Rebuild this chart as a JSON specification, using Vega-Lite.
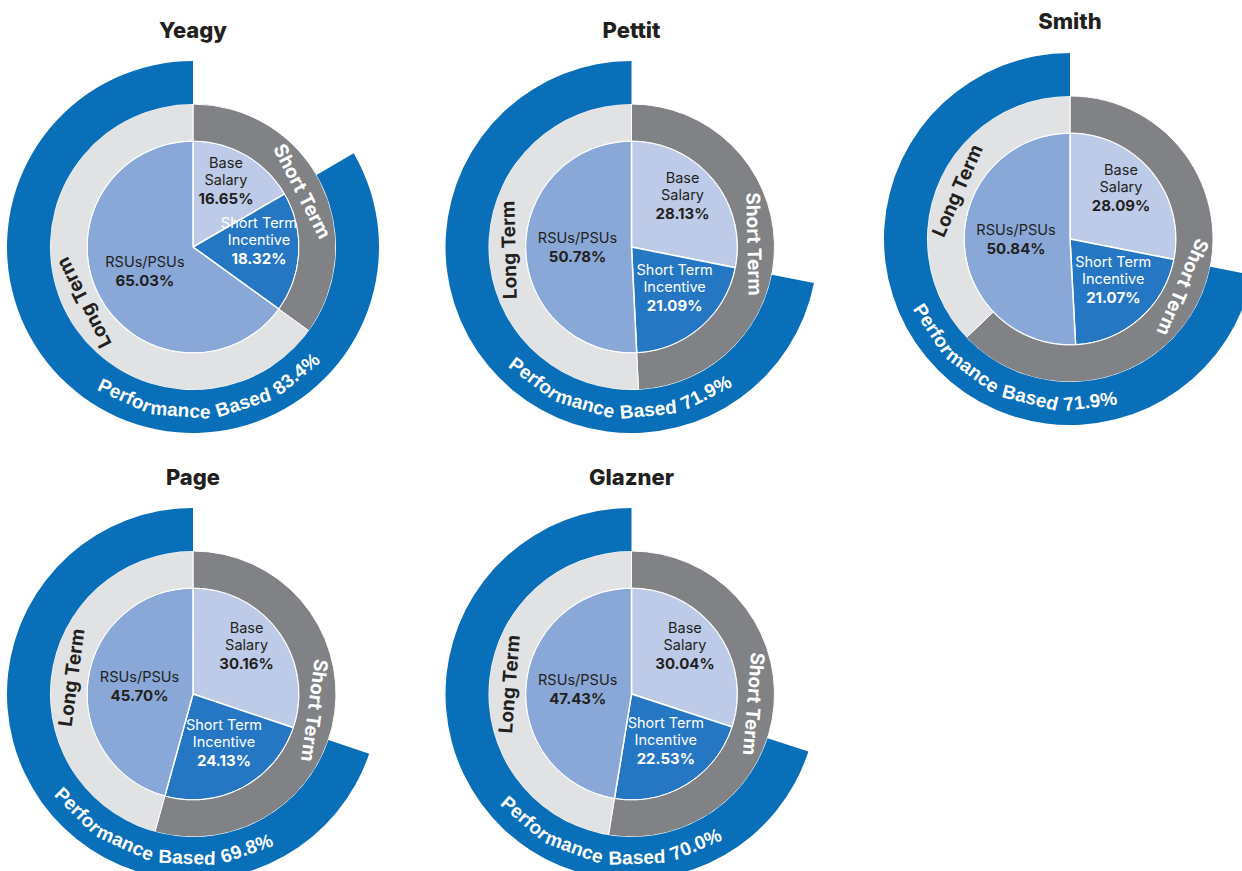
{
"$schema": "https://vega.github.io/schema/vega-lite/v6.json",
"background": "#ffffff",
"padding": {"left": 0, "top": 11, "right": 0, "bottom": 0},
"config": {"view": {"stroke": null}, "font": "Inter"},
"datasets": {"comp": [
{"p":"Yeagy","ring":"pie","seg":"Base Salary","label":"Base\nSalary","v":0.1665,"k":1},
{"p":"Yeagy","ring":"pie","seg":"Short Term Incentive","label":"Short Term\nIncentive","v":0.1832,"k":2},
{"p":"Yeagy","ring":"pie","seg":"RSUs/PSUs","label":"RSUs/PSUs","v":0.6503,"k":3},
{"p":"Yeagy","ring":"mid","seg":"Short Term","label":"Short Term","v":0.3497,"k":1},
{"p":"Yeagy","ring":"mid","seg":"Long Term","label":"Long Term","v":0.6503,"k":2},
{"p":"Yeagy","ring":"outer","seg":"Not Performance Based","label":"","v":0.166,"k":1},
{"p":"Yeagy","ring":"outer","seg":"Performance Based","label":"Performance Based","v":0.834,"k":2},
{"p":"Pettit","ring":"pie","seg":"Base Salary","label":"Base\nSalary","v":0.2813,"k":1},
{"p":"Pettit","ring":"pie","seg":"Short Term Incentive","label":"Short Term\nIncentive","v":0.2109,"k":2},
{"p":"Pettit","ring":"pie","seg":"RSUs/PSUs","label":"RSUs/PSUs","v":0.5078,"k":3},
{"p":"Pettit","ring":"mid","seg":"Short Term","label":"Short Term","v":0.4922,"k":1},
{"p":"Pettit","ring":"mid","seg":"Long Term","label":"Long Term","v":0.5078,"k":2},
{"p":"Pettit","ring":"outer","seg":"Not Performance Based","label":"","v":0.281,"k":1},
{"p":"Pettit","ring":"outer","seg":"Performance Based","label":"Performance Based","v":0.719,"k":2},
{"p":"Smith","ring":"pie","seg":"Base Salary","label":"Base\nSalary","v":0.2809,"k":1},
{"p":"Smith","ring":"pie","seg":"Short Term Incentive","label":"Short Term\nIncentive","v":0.2107,"k":2},
{"p":"Smith","ring":"pie","seg":"RSUs/PSUs","label":"RSUs/PSUs","v":0.5084,"k":3},
{"p":"Smith","ring":"mid","seg":"Short Term","label":"Short Term","v":0.629,"k":1},
{"p":"Smith","ring":"mid","seg":"Long Term","label":"Long Term","v":0.371,"k":2},
{"p":"Smith","ring":"outer","seg":"Not Performance Based","label":"","v":0.281,"k":1},
{"p":"Smith","ring":"outer","seg":"Performance Based","label":"Performance Based","v":0.719,"k":2},
{"p":"Page","ring":"pie","seg":"Base Salary","label":"Base\nSalary","v":0.3016,"k":1},
{"p":"Page","ring":"pie","seg":"Short Term Incentive","label":"Short Term\nIncentive","v":0.2413,"k":2},
{"p":"Page","ring":"pie","seg":"RSUs/PSUs","label":"RSUs/PSUs","v":0.4570,"k":3},
{"p":"Page","ring":"mid","seg":"Short Term","label":"Short Term","v":0.5429,"k":1},
{"p":"Page","ring":"mid","seg":"Long Term","label":"Long Term","v":0.4571,"k":2},
{"p":"Page","ring":"outer","seg":"Not Performance Based","label":"","v":0.302,"k":1},
{"p":"Page","ring":"outer","seg":"Performance Based","label":"Performance Based","v":0.698,"k":2},
{"p":"Glazner","ring":"pie","seg":"Base Salary","label":"Base\nSalary","v":0.3004,"k":1},
{"p":"Glazner","ring":"pie","seg":"Short Term Incentive","label":"Short Term\nIncentive","v":0.2253,"k":2},
{"p":"Glazner","ring":"pie","seg":"RSUs/PSUs","label":"RSUs/PSUs","v":0.4743,"k":3},
{"p":"Glazner","ring":"mid","seg":"Short Term","label":"Short Term","v":0.5257,"k":1},
{"p":"Glazner","ring":"mid","seg":"Long Term","label":"Long Term","v":0.4743,"k":2},
{"p":"Glazner","ring":"outer","seg":"Not Performance Based","label":"","v":0.300,"k":1},
{"p":"Glazner","ring":"outer","seg":"Performance Based","label":"Performance Based","v":0.700,"k":2}
]},
"columns": 3,
"spacing": {"row": 34, "column": 52.5},
"concat": [
{
"title": {"text": "Yeagy", "fontSize": 22, "fontWeight": 800, "font": "Inter", "color": "#231f20", "offset": 18},
"width": 386, "height": 372,
"data": {"name": "comp"},
"transform": [{"filter": "datum.p === 'Yeagy'"}],
"layer": [
{"transform": [{"filter": "datum.ring === 'pie'"}],
 "mark": {"type": "arc", "radius": 106, "stroke": "#ffffff", "strokeWidth": 1.5},
 "encoding": {"theta": {"field": "v", "type": "quantitative", "stack": true, "scale": {"domain": [0, 1]}},
  "order": {"field": "k", "type": "quantitative"},
  "color": {"field": "seg", "type": "nominal", "legend": null, "scale": {"domain": ["Base Salary","Short Term Incentive","RSUs/PSUs","Short Term","Long Term","Not Performance Based","Performance Based"], "range": ["#bdcbe8","#2677c3","#89a8d8","#808285","#e1e2e4","#ffffff","#0a6fb9"]}}}},
{"transform": [{"filter": "datum.ring === 'mid'"}],
 "mark": {"type": "arc", "radius": 143, "radius2": 106, "stroke": "#ffffff", "strokeWidth": 1},
 "encoding": {"theta": {"field": "v", "type": "quantitative", "stack": true, "scale": {"domain": [0, 1]}},
  "order": {"field": "k", "type": "quantitative"},
  "color": {"field": "seg", "type": "nominal", "legend": null}}},
{"transform": [{"filter": "datum.ring === 'outer'"}],
 "mark": {"type": "arc", "radius": 186, "radius2": 143},
 "encoding": {"theta": {"field": "v", "type": "quantitative", "stack": true, "scale": {"domain": [0, 1]}},
  "order": {"field": "k", "type": "quantitative"},
  "color": {"field": "seg", "type": "nominal", "legend": null},
  "opacity": {"condition": {"test": "datum.seg === 'Performance Based'", "value": 1}, "value": 0}}},
{"transform": [{"filter": "datum.ring === 'pie'"}],
 "mark": {"type": "text", "radius": 66, "baseline": "bottom", "lineBreak": "\n", "fontSize": 14.5, "lineHeight": 17, "font": "Inter", "dy": -19},
 "encoding": {"theta": {"field": "v", "type": "quantitative", "stack": true, "scale": {"domain": [0, 1]}},
  "order": {"field": "k", "type": "quantitative"}, "detail": {"field": "seg"},
  "text": {"field": "label"},
  "opacity": {"condition": {"test": "datum.k === 3", "value": 0}, "value": 1},
  "color": {"condition": {"test": "datum.seg === 'Short Term Incentive'", "value": "#ffffff"}, "value": "#231f20"}}},
{"transform": [{"filter": "datum.ring === 'pie'"}],
 "mark": {"type": "text", "radius": 66, "baseline": "top", "fontSize": 15, "fontWeight": "bold", "font": "Inter", "dy": 2},
 "encoding": {"theta": {"field": "v", "type": "quantitative", "stack": true, "scale": {"domain": [0, 1]}},
  "order": {"field": "k", "type": "quantitative"}, "detail": {"field": "seg"},
  "text": {"field": "v", "type": "quantitative", "format": ".2%"},
  "opacity": {"condition": {"test": "datum.k === 3", "value": 0}, "value": 1},
  "color": {"condition": {"test": "datum.seg === 'Short Term Incentive'", "value": "#ffffff"}, "value": "#231f20"}}},
{"transform": [{"filter": "datum.ring === 'pie'"}],
 "mark": {"type": "text", "radius": 54, "baseline": "bottom", "fontSize": 14.5, "font": "Inter", "dy": -2},
 "encoding": {"theta": {"field": "v", "type": "quantitative", "stack": true, "scale": {"domain": [0, 1]}},
  "order": {"field": "k", "type": "quantitative"}, "detail": {"field": "seg"},
  "text": {"field": "label"},
  "opacity": {"condition": {"test": "datum.k === 3", "value": 1}, "value": 0},
  "color": {"value": "#231f20"}}},
{"transform": [{"filter": "datum.ring === 'pie'"}],
 "mark": {"type": "text", "radius": 54, "baseline": "top", "fontSize": 15, "fontWeight": "bold", "font": "Inter", "dy": 2},
 "encoding": {"theta": {"field": "v", "type": "quantitative", "stack": true, "scale": {"domain": [0, 1]}},
  "order": {"field": "k", "type": "quantitative"}, "detail": {"field": "seg"},
  "text": {"field": "v", "type": "quantitative", "format": ".2%"},
  "opacity": {"condition": {"test": "datum.k === 3", "value": 1}, "value": 0},
  "color": {"value": "#231f20"}}},
{"transform": [{"filter": "datum.ring === 'mid'"}],
 "mark": {"type": "text", "radius": 122, "baseline": "middle", "fontSize": 19, "fontWeight": "bold", "font": "Inter"},
 "encoding": {"theta": {"field": "v", "type": "quantitative", "stack": true, "scale": {"domain": [0, 1]}},
  "order": {"field": "k", "type": "quantitative"}, "detail": {"field": "seg"},
  "text": {"field": "label"},
  "angle": {"condition": {"test": "datum.seg === 'Short Term'", "value": 62.9}, "value": 242.9},
  "color": {"condition": {"test": "datum.seg === 'Short Term'", "value": "#ffffff"}, "value": "#231f20"}}},
{"transform": [{"filter": "datum.seg === 'Performance Based'"}],
 "mark": {"type": "text", "text": "Perfor", "radius": 164, "angle": 24.7, "baseline": "middle", "fontSize": 19, "fontWeight": "bold", "font": "Liberation Sans", "color": "#ffffff"},
 "encoding": {"theta": {"datum": 0.5686, "type": "quantitative", "scale": {"domain": [0, 1]}}}},
{"transform": [{"filter": "datum.seg === 'Performance Based'"}],
 "mark": {"type": "text", "text": "mance", "radius": 164, "angle": 4.4, "baseline": "middle", "fontSize": 19, "fontWeight": "bold", "font": "Liberation Sans", "color": "#ffffff"},
 "encoding": {"theta": {"datum": 0.5122, "type": "quantitative", "scale": {"domain": [0, 1]}}}},
{"transform": [{"filter": "datum.seg === 'Performance Based'"}],
 "mark": {"type": "text", "text": "Based", "radius": 164, "angle": -17.9, "baseline": "middle", "fontSize": 19, "fontWeight": "bold", "font": "Liberation Sans", "color": "#ffffff"},
 "encoding": {"theta": {"datum": 0.4503, "type": "quantitative", "scale": {"domain": [0, 1]}}}},
{"transform": [{"filter": "datum.seg === 'Performance Based'"}],
 "mark": {"type": "text", "radius": 164, "angle": -39.1, "baseline": "middle", "fontSize": 19, "fontWeight": "bold", "font": "Liberation Sans", "color": "#ffffff"},
 "encoding": {"theta": {"datum": 0.3914, "type": "quantitative", "scale": {"domain": [0, 1]}}, "text": {"field": "v", "type": "quantitative", "format": ".1%"}}}
]},
{
"title": {"text": "Pettit", "fontSize": 22, "fontWeight": 800, "font": "Inter", "color": "#231f20", "offset": 18},
"width": 386, "height": 372,
"data": {"name": "comp"},
"transform": [{"filter": "datum.p === 'Pettit'"}],
"layer": [
{"transform": [{"filter": "datum.ring === 'pie'"}],
 "mark": {"type": "arc", "radius": 106, "stroke": "#ffffff", "strokeWidth": 1.5},
 "encoding": {"theta": {"field": "v", "type": "quantitative", "stack": true, "scale": {"domain": [0, 1]}},
  "order": {"field": "k", "type": "quantitative"},
  "color": {"field": "seg", "type": "nominal", "legend": null, "scale": {"domain": ["Base Salary","Short Term Incentive","RSUs/PSUs","Short Term","Long Term","Not Performance Based","Performance Based"], "range": ["#bdcbe8","#2677c3","#89a8d8","#808285","#e1e2e4","#ffffff","#0a6fb9"]}}}},
{"transform": [{"filter": "datum.ring === 'mid'"}],
 "mark": {"type": "arc", "radius": 143, "radius2": 106, "stroke": "#ffffff", "strokeWidth": 1},
 "encoding": {"theta": {"field": "v", "type": "quantitative", "stack": true, "scale": {"domain": [0, 1]}},
  "order": {"field": "k", "type": "quantitative"},
  "color": {"field": "seg", "type": "nominal", "legend": null}}},
{"transform": [{"filter": "datum.ring === 'outer'"}],
 "mark": {"type": "arc", "radius": 186, "radius2": 143},
 "encoding": {"theta": {"field": "v", "type": "quantitative", "stack": true, "scale": {"domain": [0, 1]}},
  "order": {"field": "k", "type": "quantitative"},
  "color": {"field": "seg", "type": "nominal", "legend": null},
  "opacity": {"condition": {"test": "datum.seg === 'Performance Based'", "value": 1}, "value": 0}}},
{"transform": [{"filter": "datum.ring === 'pie'"}],
 "mark": {"type": "text", "radius": 66, "baseline": "bottom", "lineBreak": "\n", "fontSize": 14.5, "lineHeight": 17, "font": "Inter", "dy": -19},
 "encoding": {"theta": {"field": "v", "type": "quantitative", "stack": true, "scale": {"domain": [0, 1]}},
  "order": {"field": "k", "type": "quantitative"}, "detail": {"field": "seg"},
  "text": {"field": "label"},
  "opacity": {"condition": {"test": "datum.k === 3", "value": 0}, "value": 1},
  "color": {"condition": {"test": "datum.seg === 'Short Term Incentive'", "value": "#ffffff"}, "value": "#231f20"}}},
{"transform": [{"filter": "datum.ring === 'pie'"}],
 "mark": {"type": "text", "radius": 66, "baseline": "top", "fontSize": 15, "fontWeight": "bold", "font": "Inter", "dy": 2},
 "encoding": {"theta": {"field": "v", "type": "quantitative", "stack": true, "scale": {"domain": [0, 1]}},
  "order": {"field": "k", "type": "quantitative"}, "detail": {"field": "seg"},
  "text": {"field": "v", "type": "quantitative", "format": ".2%"},
  "opacity": {"condition": {"test": "datum.k === 3", "value": 0}, "value": 1},
  "color": {"condition": {"test": "datum.seg === 'Short Term Incentive'", "value": "#ffffff"}, "value": "#231f20"}}},
{"transform": [{"filter": "datum.ring === 'pie'"}],
 "mark": {"type": "text", "radius": 54, "baseline": "bottom", "fontSize": 14.5, "font": "Inter", "dy": -2},
 "encoding": {"theta": {"field": "v", "type": "quantitative", "stack": true, "scale": {"domain": [0, 1]}},
  "order": {"field": "k", "type": "quantitative"}, "detail": {"field": "seg"},
  "text": {"field": "label"},
  "opacity": {"condition": {"test": "datum.k === 3", "value": 1}, "value": 0},
  "color": {"value": "#231f20"}}},
{"transform": [{"filter": "datum.ring === 'pie'"}],
 "mark": {"type": "text", "radius": 54, "baseline": "top", "fontSize": 15, "fontWeight": "bold", "font": "Inter", "dy": 2},
 "encoding": {"theta": {"field": "v", "type": "quantitative", "stack": true, "scale": {"domain": [0, 1]}},
  "order": {"field": "k", "type": "quantitative"}, "detail": {"field": "seg"},
  "text": {"field": "v", "type": "quantitative", "format": ".2%"},
  "opacity": {"condition": {"test": "datum.k === 3", "value": 1}, "value": 0},
  "color": {"value": "#231f20"}}},
{"transform": [{"filter": "datum.ring === 'mid'"}],
 "mark": {"type": "text", "radius": 122, "baseline": "middle", "fontSize": 19, "fontWeight": "bold", "font": "Inter"},
 "encoding": {"theta": {"field": "v", "type": "quantitative", "stack": true, "scale": {"domain": [0, 1]}},
  "order": {"field": "k", "type": "quantitative"}, "detail": {"field": "seg"},
  "text": {"field": "label"},
  "angle": {"condition": {"test": "datum.seg === 'Short Term'", "value": 88.6}, "value": 268.6},
  "color": {"condition": {"test": "datum.seg === 'Short Term'", "value": "#ffffff"}, "value": "#231f20"}}},
{"transform": [{"filter": "datum.seg === 'Performance Based'"}],
 "mark": {"type": "text", "text": "Perfor", "radius": 164, "angle": 36.7, "baseline": "middle", "fontSize": 19, "fontWeight": "bold", "font": "Liberation Sans", "color": "#ffffff"},
 "encoding": {"theta": {"datum": 0.6019, "type": "quantitative", "scale": {"domain": [0, 1]}}}},
{"transform": [{"filter": "datum.seg === 'Performance Based'"}],
 "mark": {"type": "text", "text": "mance", "radius": 164, "angle": 16.4, "baseline": "middle", "fontSize": 19, "fontWeight": "bold", "font": "Liberation Sans", "color": "#ffffff"},
 "encoding": {"theta": {"datum": 0.5456, "type": "quantitative", "scale": {"domain": [0, 1]}}}},
{"transform": [{"filter": "datum.seg === 'Performance Based'"}],
 "mark": {"type": "text", "text": "Based", "radius": 164, "angle": -5.9, "baseline": "middle", "fontSize": 19, "fontWeight": "bold", "font": "Liberation Sans", "color": "#ffffff"},
 "encoding": {"theta": {"datum": 0.4836, "type": "quantitative", "scale": {"domain": [0, 1]}}}},
{"transform": [{"filter": "datum.seg === 'Performance Based'"}],
 "mark": {"type": "text", "radius": 164, "angle": -27.1, "baseline": "middle", "fontSize": 19, "fontWeight": "bold", "font": "Liberation Sans", "color": "#ffffff"},
 "encoding": {"theta": {"datum": 0.4247, "type": "quantitative", "scale": {"domain": [0, 1]}}, "text": {"field": "v", "type": "quantitative", "format": ".1%"}}}
]},
{
"title": {"text": "Smith", "fontSize": 22, "fontWeight": 800, "font": "Inter", "color": "#231f20", "offset": 19},
"width": 386, "height": 356,
"data": {"name": "comp"},
"transform": [{"filter": "datum.p === 'Smith'"}],
"layer": [
{"transform": [{"filter": "datum.ring === 'pie'"}],
 "mark": {"type": "arc", "radius": 106, "stroke": "#ffffff", "strokeWidth": 1.5},
 "encoding": {"theta": {"field": "v", "type": "quantitative", "stack": true, "scale": {"domain": [0, 1]}},
  "order": {"field": "k", "type": "quantitative"},
  "color": {"field": "seg", "type": "nominal", "legend": null, "scale": {"domain": ["Base Salary","Short Term Incentive","RSUs/PSUs","Short Term","Long Term","Not Performance Based","Performance Based"], "range": ["#bdcbe8","#0a69b5","#89a8d8","#808285","#e1e2e4","#ffffff","#0a6fb9"]}}}},
{"transform": [{"filter": "datum.ring === 'mid'"}],
 "mark": {"type": "arc", "radius": 143, "radius2": 106, "stroke": "#ffffff", "strokeWidth": 1},
 "encoding": {"theta": {"field": "v", "type": "quantitative", "stack": true, "scale": {"domain": [0, 1]}},
  "order": {"field": "k", "type": "quantitative"},
  "color": {"field": "seg", "type": "nominal", "legend": null}}},
{"transform": [{"filter": "datum.ring === 'outer'"}],
 "mark": {"type": "arc", "radius": 186, "radius2": 143},
 "encoding": {"theta": {"field": "v", "type": "quantitative", "stack": true, "scale": {"domain": [0, 1]}},
  "order": {"field": "k", "type": "quantitative"},
  "color": {"field": "seg", "type": "nominal", "legend": null},
  "opacity": {"condition": {"test": "datum.seg === 'Performance Based'", "value": 1}, "value": 0}}},
{"transform": [{"filter": "datum.ring === 'pie'"}],
 "mark": {"type": "text", "radius": 66, "baseline": "bottom", "lineBreak": "\n", "fontSize": 14.5, "lineHeight": 17, "font": "Inter", "dy": -19},
 "encoding": {"theta": {"field": "v", "type": "quantitative", "stack": true, "scale": {"domain": [0, 1]}},
  "order": {"field": "k", "type": "quantitative"}, "detail": {"field": "seg"},
  "text": {"field": "label"},
  "opacity": {"condition": {"test": "datum.k === 3", "value": 0}, "value": 1},
  "color": {"condition": {"test": "datum.seg === 'Short Term Incentive'", "value": "#ffffff"}, "value": "#231f20"}}},
{"transform": [{"filter": "datum.ring === 'pie'"}],
 "mark": {"type": "text", "radius": 66, "baseline": "top", "fontSize": 15, "fontWeight": "bold", "font": "Inter", "dy": 2},
 "encoding": {"theta": {"field": "v", "type": "quantitative", "stack": true, "scale": {"domain": [0, 1]}},
  "order": {"field": "k", "type": "quantitative"}, "detail": {"field": "seg"},
  "text": {"field": "v", "type": "quantitative", "format": ".2%"},
  "opacity": {"condition": {"test": "datum.k === 3", "value": 0}, "value": 1},
  "color": {"condition": {"test": "datum.seg === 'Short Term Incentive'", "value": "#ffffff"}, "value": "#231f20"}}},
{"transform": [{"filter": "datum.ring === 'pie'"}],
 "mark": {"type": "text", "radius": 54, "baseline": "bottom", "fontSize": 14.5, "font": "Inter", "dy": -2},
 "encoding": {"theta": {"field": "v", "type": "quantitative", "stack": true, "scale": {"domain": [0, 1]}},
  "order": {"field": "k", "type": "quantitative"}, "detail": {"field": "seg"},
  "text": {"field": "label"},
  "opacity": {"condition": {"test": "datum.k === 3", "value": 1}, "value": 0},
  "color": {"value": "#231f20"}}},
{"transform": [{"filter": "datum.ring === 'pie'"}],
 "mark": {"type": "text", "radius": 54, "baseline": "top", "fontSize": 15, "fontWeight": "bold", "font": "Inter", "dy": 2},
 "encoding": {"theta": {"field": "v", "type": "quantitative", "stack": true, "scale": {"domain": [0, 1]}},
  "order": {"field": "k", "type": "quantitative"}, "detail": {"field": "seg"},
  "text": {"field": "v", "type": "quantitative", "format": ".2%"},
  "opacity": {"condition": {"test": "datum.k === 3", "value": 1}, "value": 0},
  "color": {"value": "#231f20"}}},
{"transform": [{"filter": "datum.ring === 'mid'"}],
 "mark": {"type": "text", "radius": 122, "baseline": "middle", "fontSize": 19, "fontWeight": "bold", "font": "Inter"},
 "encoding": {"theta": {"field": "v", "type": "quantitative", "stack": true, "scale": {"domain": [0, 1]}},
  "order": {"field": "k", "type": "quantitative"}, "detail": {"field": "seg"},
  "text": {"field": "label"},
  "angle": {"condition": {"test": "datum.seg === 'Short Term'", "value": 113.2}, "value": 293.6},
  "color": {"condition": {"test": "datum.seg === 'Short Term'", "value": "#ffffff"}, "value": "#231f20"}}},
{"transform": [{"filter": "datum.seg === 'Performance Based'"}],
 "mark": {"type": "text", "text": "Perfor", "radius": 164, "angle": 56.7, "baseline": "middle", "fontSize": 19, "fontWeight": "bold", "font": "Liberation Sans", "color": "#ffffff"},
 "encoding": {"theta": {"datum": 0.6575, "type": "quantitative", "scale": {"domain": [0, 1]}}}},
{"transform": [{"filter": "datum.seg === 'Performance Based'"}],
 "mark": {"type": "text", "text": "mance", "radius": 164, "angle": 36.4, "baseline": "middle", "fontSize": 19, "fontWeight": "bold", "font": "Liberation Sans", "color": "#ffffff"},
 "encoding": {"theta": {"datum": 0.6011, "type": "quantitative", "scale": {"domain": [0, 1]}}}},
{"transform": [{"filter": "datum.seg === 'Performance Based'"}],
 "mark": {"type": "text", "text": "Based", "radius": 164, "angle": 14.1, "baseline": "middle", "fontSize": 19, "fontWeight": "bold", "font": "Liberation Sans", "color": "#ffffff"},
 "encoding": {"theta": {"datum": 0.5392, "type": "quantitative", "scale": {"domain": [0, 1]}}}},
{"transform": [{"filter": "datum.seg === 'Performance Based'"}],
 "mark": {"type": "text", "radius": 164, "angle": -7.1, "baseline": "middle", "fontSize": 19, "fontWeight": "bold", "font": "Liberation Sans", "color": "#ffffff"},
 "encoding": {"theta": {"datum": 0.4803, "type": "quantitative", "scale": {"domain": [0, 1]}}, "text": {"field": "v", "type": "quantitative", "format": ".1%"}}}
]},
{
"title": {"text": "Page", "fontSize": 22, "fontWeight": 800, "font": "Inter", "color": "#231f20", "offset": 18},
"width": 386, "height": 372,
"data": {"name": "comp"},
"transform": [{"filter": "datum.p === 'Page'"}],
"layer": [
{"transform": [{"filter": "datum.ring === 'pie'"}],
 "mark": {"type": "arc", "radius": 106, "stroke": "#ffffff", "strokeWidth": 1.5},
 "encoding": {"theta": {"field": "v", "type": "quantitative", "stack": true, "scale": {"domain": [0, 1]}},
  "order": {"field": "k", "type": "quantitative"},
  "color": {"field": "seg", "type": "nominal", "legend": null, "scale": {"domain": ["Base Salary","Short Term Incentive","RSUs/PSUs","Short Term","Long Term","Not Performance Based","Performance Based"], "range": ["#bdcbe8","#2677c3","#89a8d8","#808285","#e1e2e4","#ffffff","#0a6fb9"]}}}},
{"transform": [{"filter": "datum.ring === 'mid'"}],
 "mark": {"type": "arc", "radius": 143, "radius2": 106, "stroke": "#ffffff", "strokeWidth": 1},
 "encoding": {"theta": {"field": "v", "type": "quantitative", "stack": true, "scale": {"domain": [0, 1]}},
  "order": {"field": "k", "type": "quantitative"},
  "color": {"field": "seg", "type": "nominal", "legend": null}}},
{"transform": [{"filter": "datum.ring === 'outer'"}],
 "mark": {"type": "arc", "radius": 186, "radius2": 143},
 "encoding": {"theta": {"field": "v", "type": "quantitative", "stack": true, "scale": {"domain": [0, 1]}},
  "order": {"field": "k", "type": "quantitative"},
  "color": {"field": "seg", "type": "nominal", "legend": null},
  "opacity": {"condition": {"test": "datum.seg === 'Performance Based'", "value": 1}, "value": 0}}},
{"transform": [{"filter": "datum.ring === 'pie'"}],
 "mark": {"type": "text", "radius": 66, "baseline": "bottom", "lineBreak": "\n", "fontSize": 14.5, "lineHeight": 17, "font": "Inter", "dy": -19},
 "encoding": {"theta": {"field": "v", "type": "quantitative", "stack": true, "scale": {"domain": [0, 1]}},
  "order": {"field": "k", "type": "quantitative"}, "detail": {"field": "seg"},
  "text": {"field": "label"},
  "opacity": {"condition": {"test": "datum.k === 3", "value": 0}, "value": 1},
  "color": {"condition": {"test": "datum.seg === 'Short Term Incentive'", "value": "#ffffff"}, "value": "#231f20"}}},
{"transform": [{"filter": "datum.ring === 'pie'"}],
 "mark": {"type": "text", "radius": 66, "baseline": "top", "fontSize": 15, "fontWeight": "bold", "font": "Inter", "dy": 2},
 "encoding": {"theta": {"field": "v", "type": "quantitative", "stack": true, "scale": {"domain": [0, 1]}},
  "order": {"field": "k", "type": "quantitative"}, "detail": {"field": "seg"},
  "text": {"field": "v", "type": "quantitative", "format": ".2%"},
  "opacity": {"condition": {"test": "datum.k === 3", "value": 0}, "value": 1},
  "color": {"condition": {"test": "datum.seg === 'Short Term Incentive'", "value": "#ffffff"}, "value": "#231f20"}}},
{"transform": [{"filter": "datum.ring === 'pie'"}],
 "mark": {"type": "text", "radius": 54, "baseline": "bottom", "fontSize": 14.5, "font": "Inter", "dy": -2},
 "encoding": {"theta": {"field": "v", "type": "quantitative", "stack": true, "scale": {"domain": [0, 1]}},
  "order": {"field": "k", "type": "quantitative"}, "detail": {"field": "seg"},
  "text": {"field": "label"},
  "opacity": {"condition": {"test": "datum.k === 3", "value": 1}, "value": 0},
  "color": {"value": "#231f20"}}},
{"transform": [{"filter": "datum.ring === 'pie'"}],
 "mark": {"type": "text", "radius": 54, "baseline": "top", "fontSize": 15, "fontWeight": "bold", "font": "Inter", "dy": 2},
 "encoding": {"theta": {"field": "v", "type": "quantitative", "stack": true, "scale": {"domain": [0, 1]}},
  "order": {"field": "k", "type": "quantitative"}, "detail": {"field": "seg"},
  "text": {"field": "v", "type": "quantitative", "format": ".2%"},
  "opacity": {"condition": {"test": "datum.k === 3", "value": 1}, "value": 0},
  "color": {"value": "#231f20"}}},
{"transform": [{"filter": "datum.ring === 'mid'"}],
 "mark": {"type": "text", "radius": 122, "baseline": "middle", "fontSize": 19, "fontWeight": "bold", "font": "Inter"},
 "encoding": {"theta": {"field": "v", "type": "quantitative", "stack": true, "scale": {"domain": [0, 1]}},
  "order": {"field": "k", "type": "quantitative"}, "detail": {"field": "seg"},
  "text": {"field": "label"},
  "angle": {"condition": {"test": "datum.seg === 'Short Term'", "value": 97.7}, "value": 277.7},
  "color": {"condition": {"test": "datum.seg === 'Short Term'", "value": "#ffffff"}, "value": "#231f20"}}},
{"transform": [{"filter": "datum.seg === 'Performance Based'"}],
 "mark": {"type": "text", "text": "Perfor", "radius": 164, "angle": 44.7, "baseline": "middle", "fontSize": 19, "fontWeight": "bold", "font": "Liberation Sans", "color": "#ffffff"},
 "encoding": {"theta": {"datum": 0.6242, "type": "quantitative", "scale": {"domain": [0, 1]}}}},
{"transform": [{"filter": "datum.seg === 'Performance Based'"}],
 "mark": {"type": "text", "text": "mance", "radius": 164, "angle": 24.4, "baseline": "middle", "fontSize": 19, "fontWeight": "bold", "font": "Liberation Sans", "color": "#ffffff"},
 "encoding": {"theta": {"datum": 0.5678, "type": "quantitative", "scale": {"domain": [0, 1]}}}},
{"transform": [{"filter": "datum.seg === 'Performance Based'"}],
 "mark": {"type": "text", "text": "Based", "radius": 164, "angle": 2.1, "baseline": "middle", "fontSize": 19, "fontWeight": "bold", "font": "Liberation Sans", "color": "#ffffff"},
 "encoding": {"theta": {"datum": 0.5058, "type": "quantitative", "scale": {"domain": [0, 1]}}}},
{"transform": [{"filter": "datum.seg === 'Performance Based'"}],
 "mark": {"type": "text", "radius": 164, "angle": -19.1, "baseline": "middle", "fontSize": 19, "fontWeight": "bold", "font": "Liberation Sans", "color": "#ffffff"},
 "encoding": {"theta": {"datum": 0.4469, "type": "quantitative", "scale": {"domain": [0, 1]}}, "text": {"field": "v", "type": "quantitative", "format": ".1%"}}}
]},
{
"title": {"text": "Glazner", "fontSize": 22, "fontWeight": 800, "font": "Inter", "color": "#231f20", "offset": 18},
"width": 386, "height": 372,
"data": {"name": "comp"},
"transform": [{"filter": "datum.p === 'Glazner'"}],
"layer": [
{"transform": [{"filter": "datum.ring === 'pie'"}],
 "mark": {"type": "arc", "radius": 106, "stroke": "#ffffff", "strokeWidth": 1.5},
 "encoding": {"theta": {"field": "v", "type": "quantitative", "stack": true, "scale": {"domain": [0, 1]}},
  "order": {"field": "k", "type": "quantitative"},
  "color": {"field": "seg", "type": "nominal", "legend": null, "scale": {"domain": ["Base Salary","Short Term Incentive","RSUs/PSUs","Short Term","Long Term","Not Performance Based","Performance Based"], "range": ["#bdcbe8","#2677c3","#89a8d8","#808285","#e1e2e4","#ffffff","#0a6fb9"]}}}},
{"transform": [{"filter": "datum.ring === 'mid'"}],
 "mark": {"type": "arc", "radius": 143, "radius2": 106, "stroke": "#ffffff", "strokeWidth": 1},
 "encoding": {"theta": {"field": "v", "type": "quantitative", "stack": true, "scale": {"domain": [0, 1]}},
  "order": {"field": "k", "type": "quantitative"},
  "color": {"field": "seg", "type": "nominal", "legend": null}}},
{"transform": [{"filter": "datum.ring === 'outer'"}],
 "mark": {"type": "arc", "radius": 186, "radius2": 143},
 "encoding": {"theta": {"field": "v", "type": "quantitative", "stack": true, "scale": {"domain": [0, 1]}},
  "order": {"field": "k", "type": "quantitative"},
  "color": {"field": "seg", "type": "nominal", "legend": null},
  "opacity": {"condition": {"test": "datum.seg === 'Performance Based'", "value": 1}, "value": 0}}},
{"transform": [{"filter": "datum.ring === 'pie'"}],
 "mark": {"type": "text", "radius": 66, "baseline": "bottom", "lineBreak": "\n", "fontSize": 14.5, "lineHeight": 17, "font": "Inter", "dy": -19},
 "encoding": {"theta": {"field": "v", "type": "quantitative", "stack": true, "scale": {"domain": [0, 1]}},
  "order": {"field": "k", "type": "quantitative"}, "detail": {"field": "seg"},
  "text": {"field": "label"},
  "opacity": {"condition": {"test": "datum.k === 3", "value": 0}, "value": 1},
  "color": {"condition": {"test": "datum.seg === 'Short Term Incentive'", "value": "#ffffff"}, "value": "#231f20"}}},
{"transform": [{"filter": "datum.ring === 'pie'"}],
 "mark": {"type": "text", "radius": 66, "baseline": "top", "fontSize": 15, "fontWeight": "bold", "font": "Inter", "dy": 2},
 "encoding": {"theta": {"field": "v", "type": "quantitative", "stack": true, "scale": {"domain": [0, 1]}},
  "order": {"field": "k", "type": "quantitative"}, "detail": {"field": "seg"},
  "text": {"field": "v", "type": "quantitative", "format": ".2%"},
  "opacity": {"condition": {"test": "datum.k === 3", "value": 0}, "value": 1},
  "color": {"condition": {"test": "datum.seg === 'Short Term Incentive'", "value": "#ffffff"}, "value": "#231f20"}}},
{"transform": [{"filter": "datum.ring === 'pie'"}],
 "mark": {"type": "text", "radius": 54, "baseline": "bottom", "fontSize": 14.5, "font": "Inter", "dy": -2},
 "encoding": {"theta": {"field": "v", "type": "quantitative", "stack": true, "scale": {"domain": [0, 1]}},
  "order": {"field": "k", "type": "quantitative"}, "detail": {"field": "seg"},
  "text": {"field": "label"},
  "opacity": {"condition": {"test": "datum.k === 3", "value": 1}, "value": 0},
  "color": {"value": "#231f20"}}},
{"transform": [{"filter": "datum.ring === 'pie'"}],
 "mark": {"type": "text", "radius": 54, "baseline": "top", "fontSize": 15, "fontWeight": "bold", "font": "Inter", "dy": 2},
 "encoding": {"theta": {"field": "v", "type": "quantitative", "stack": true, "scale": {"domain": [0, 1]}},
  "order": {"field": "k", "type": "quantitative"}, "detail": {"field": "seg"},
  "text": {"field": "v", "type": "quantitative", "format": ".2%"},
  "opacity": {"condition": {"test": "datum.k === 3", "value": 1}, "value": 0},
  "color": {"value": "#231f20"}}},
{"transform": [{"filter": "datum.ring === 'mid'"}],
 "mark": {"type": "text", "radius": 122, "baseline": "middle", "fontSize": 19, "fontWeight": "bold", "font": "Inter"},
 "encoding": {"theta": {"field": "v", "type": "quantitative", "stack": true, "scale": {"domain": [0, 1]}},
  "order": {"field": "k", "type": "quantitative"}, "detail": {"field": "seg"},
  "text": {"field": "label"},
  "angle": {"condition": {"test": "datum.seg === 'Short Term'", "value": 94.6}, "value": 274.6},
  "color": {"condition": {"test": "datum.seg === 'Short Term'", "value": "#ffffff"}, "value": "#231f20"}}},
{"transform": [{"filter": "datum.seg === 'Performance Based'"}],
 "mark": {"type": "text", "text": "Perfor", "radius": 164, "angle": 40.7, "baseline": "middle", "fontSize": 19, "fontWeight": "bold", "font": "Liberation Sans", "color": "#ffffff"},
 "encoding": {"theta": {"datum": 0.6131, "type": "quantitative", "scale": {"domain": [0, 1]}}}},
{"transform": [{"filter": "datum.seg === 'Performance Based'"}],
 "mark": {"type": "text", "text": "mance", "radius": 164, "angle": 20.4, "baseline": "middle", "fontSize": 19, "fontWeight": "bold", "font": "Liberation Sans", "color": "#ffffff"},
 "encoding": {"theta": {"datum": 0.5567, "type": "quantitative", "scale": {"domain": [0, 1]}}}},
{"transform": [{"filter": "datum.seg === 'Performance Based'"}],
 "mark": {"type": "text", "text": "Based", "radius": 164, "angle": -1.9, "baseline": "middle", "fontSize": 19, "fontWeight": "bold", "font": "Liberation Sans", "color": "#ffffff"},
 "encoding": {"theta": {"datum": 0.4947, "type": "quantitative", "scale": {"domain": [0, 1]}}}},
{"transform": [{"filter": "datum.seg === 'Performance Based'"}],
 "mark": {"type": "text", "radius": 164, "angle": -23.1, "baseline": "middle", "fontSize": 19, "fontWeight": "bold", "font": "Liberation Sans", "color": "#ffffff"},
 "encoding": {"theta": {"datum": 0.4358, "type": "quantitative", "scale": {"domain": [0, 1]}}, "text": {"field": "v", "type": "quantitative", "format": ".1%"}}}
]}
]
}
